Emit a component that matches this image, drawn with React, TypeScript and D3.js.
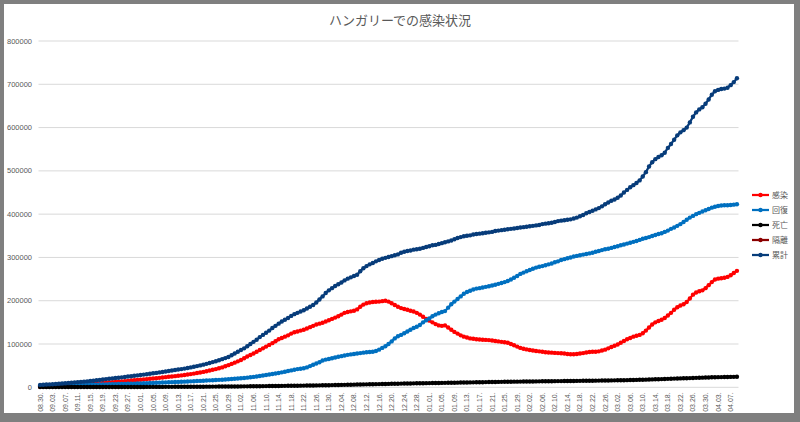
import React from "react";
import * as d3 from "d3";

// ---- data (values in thousands of people) ----
const START_DATE = "2020-08-30";
const UNIT = 1000;
const TITLE = "ハンガリーでの感染状況";
const SERIES_NAMES = ["感染", "回復", "死亡", "隔離", "累計"];
const SERIES_COLORS = ["#FF0000", "#0070C0", "#000000", "#8B0000", "#073C7A"];
const Y_TICKS = [0, 100000, 200000, 300000, 400000, 500000, 600000, 700000, 800000];

const ACTIVE = [
  1.5, 1.6, 1.9, 2.0, 2.2, 2.5, 2.9, 3.3, 3.7, 4.2,
  4.7, 5.2, 5.6, 6.0, 6.4, 6.8, 7.3, 8.0, 8.6, 9.3,
  9.9, 10.5, 11.1, 11.7, 12.3, 12.9, 13.5, 14.2, 14.9, 15.6,
  16.3, 17.0, 17.6, 18.2, 18.9, 19.6, 20.3, 21.0, 21.8, 22.6,
  23.4, 24.2, 25.0, 25.8, 26.6, 27.5, 28.3, 29.4, 30.5, 31.7,
  32.9, 34.2, 35.6, 37.2, 38.8, 40.4, 42.1, 44.0, 46.0, 48.5,
  51.2, 54.0, 57.0, 60.0, 63.0, 67.0, 71.0, 74.5, 78.0, 82.0,
  86.0, 90.0, 94.0, 98.0, 102.0, 106.5, 111.0, 114.0, 117.0, 120.0,
  124.0, 127.0, 129.0, 131.0, 133.0, 136.0, 139.0, 142.0, 145.0, 147.0,
  149.0, 152.0, 155.0, 158.0, 161.0, 164.0, 168.0, 172.0, 174.0, 175.5,
  177.0, 180.0, 186.0, 191.0, 194.0, 196.0, 197.0, 197.5, 198.0, 199.0,
  200.0, 198.0, 194.0, 190.0, 186.0, 183.0, 181.0, 179.0, 177.0, 175.0,
  172.0, 168.0, 163.0, 158.0, 154.0, 150.0, 146.0, 143.0, 142.0, 143.0,
  138.0, 133.0, 128.0, 124.0, 120.0, 117.0, 115.0, 113.0, 112.0, 111.0,
  110.5, 110.0, 109.5, 109.0, 108.0, 107.0, 106.0, 105.0, 104.0, 103.0,
  100.0, 97.0, 94.0, 91.0, 89.0, 87.5, 86.0, 85.0, 84.0, 83.0,
  82.0, 81.0, 80.5, 80.0, 79.5, 79.0, 78.5, 78.0, 77.0, 76.5,
  76.5, 77.0, 78.0, 79.0, 80.5, 81.5, 82.0, 82.0, 83.0, 85.0,
  87.0, 90.0, 93.0, 96.0, 99.0, 103.0, 107.0, 111.0, 114.0, 117.0,
  119.0, 121.0, 125.0, 131.0, 138.0, 145.0, 150.0, 153.0, 156.0, 160.0,
  166.0, 172.0, 179.0, 185.0, 189.0, 192.0, 197.0, 205.0, 214.0, 219.0,
  222.0, 224.0, 229.0, 236.0, 243.0, 249.0, 251.0, 252.0, 253.0, 255.0,
  259.0, 264.0, 269.0,
];

const RECOVERED = [
  3.4, 3.5, 3.6, 3.7, 3.8, 3.9, 4.0, 4.1, 4.3, 4.5,
  4.7, 4.9, 5.1, 5.3, 5.5, 5.7, 5.8, 6.0, 6.2, 6.4,
  6.6, 6.8, 7.0, 7.2, 7.4, 7.6, 7.8, 8.0, 8.2, 8.4,
  8.6, 8.8, 9.0, 9.2, 9.5, 9.8, 10.1, 10.4, 10.7, 11.0,
  11.3, 11.6, 11.9, 12.2, 12.5, 12.8, 13.1, 13.4, 13.7, 14.0,
  14.4, 14.8, 15.2, 15.6, 16.0, 16.4, 16.8, 17.2, 17.6, 18.0,
  18.5, 19.1, 19.7, 20.3, 20.9, 21.5, 22.3, 23.1, 24.0, 25.0,
  26.0, 27.2, 28.4, 29.6, 30.8, 32.0, 33.2, 34.5, 35.8, 37.5,
  39.0, 40.5, 42.0, 43.0, 44.0, 46.0, 49.0, 52.0, 55.0, 58.0,
  62.0, 64.0, 65.5, 67.0, 69.0, 70.5, 72.0, 73.5, 75.0, 76.0,
  77.0, 78.0, 79.0, 80.0, 81.0, 81.5, 82.0, 84.0, 87.0, 91.0,
  95.0, 100.0, 106.0, 113.0, 118.0, 121.0, 125.0, 129.0, 133.0, 137.0,
  140.0, 144.0, 150.0, 155.0, 159.0, 164.0, 168.0, 171.0, 174.0, 176.0,
  184.0, 192.0, 198.0, 204.0, 210.0, 216.0, 220.0, 223.0, 226.0, 228.0,
  229.0, 230.5, 232.0, 233.5, 235.0, 237.0, 239.0, 241.0, 243.0, 245.5,
  249.0, 253.0, 257.0, 262.0, 265.0, 268.0, 271.0, 274.0, 276.5, 278.5,
  280.0, 282.0, 284.0, 286.0, 289.0, 291.0, 294.0, 296.0, 298.0, 300.0,
  302.0, 303.5, 305.0, 306.5, 308.0, 309.5, 311.0, 313.0, 315.0, 317.0,
  319.0, 320.0, 322.0, 324.0, 326.0, 328.0, 330.0, 332.0, 334.0, 336.0,
  338.0, 340.5, 343.0, 345.0, 347.0, 349.5, 352.0, 354.0, 356.0, 359.0,
  362.0, 366.0, 369.0, 373.0, 377.0, 382.0, 387.0, 392.0, 396.0, 400.0,
  403.0, 406.0, 409.0, 412.0, 415.0, 417.0, 419.0, 420.0, 420.5, 420.5,
  421.0, 422.0, 423.0,
];

const DEATHS = [
  0.61, 0.61, 0.62, 0.62, 0.62, 0.63, 0.63, 0.63, 0.64, 0.64,
  0.64, 0.65, 0.65, 0.66, 0.66, 0.67, 0.68, 0.68, 0.69, 0.70,
  0.71, 0.72, 0.73, 0.73, 0.74, 0.75, 0.76, 0.77, 0.78, 0.79,
  0.80, 0.81, 0.83, 0.85, 0.87, 0.89, 0.91, 0.93, 0.95, 0.98,
  1.01, 1.04, 1.07, 1.10, 1.13, 1.16, 1.19, 1.22, 1.26, 1.30,
  1.34, 1.38, 1.42, 1.47, 1.52, 1.57, 1.62, 1.68, 1.74, 1.79,
  1.84, 1.89, 1.94, 2.01, 2.08, 2.15, 2.23, 2.31, 2.39, 2.47,
  2.56, 2.65, 2.74, 2.83, 2.92, 3.02, 3.12, 3.22, 3.32, 3.42,
  3.53, 3.63, 3.74, 3.84, 3.94, 4.05, 4.16, 4.27, 4.38, 4.49,
  4.60, 4.75, 4.90, 5.05, 5.21, 5.37, 5.53, 5.69, 5.85, 6.01,
  6.17, 6.33, 6.49, 6.65, 6.81, 6.97, 7.13, 7.29, 7.45, 7.60,
  7.75, 7.90, 8.05, 8.20, 8.35, 8.50, 8.65, 8.79, 8.93, 9.07,
  9.20, 9.33, 9.45, 9.54, 9.66, 9.78, 9.90, 10.02, 10.14, 10.27,
  10.40, 10.53, 10.66, 10.79, 10.92, 11.05, 11.18, 11.31, 11.44, 11.57,
  11.70, 11.83, 11.96, 12.08, 12.20, 12.32, 12.44, 12.56, 12.68, 12.80,
  12.90, 13.00, 13.10, 13.19, 13.28, 13.37, 13.46, 13.55, 13.64, 13.73,
  13.82, 13.91, 14.00, 14.09, 14.18, 14.27, 14.36, 14.45, 14.54, 14.63,
  14.72, 14.81, 14.90, 15.00, 15.10, 15.20, 15.30, 15.40, 15.50, 15.60,
  15.70, 15.80, 15.90, 16.00, 16.12, 16.25, 16.40, 16.56, 16.73, 16.91,
  17.10, 17.30, 17.51, 17.73, 17.96, 18.20, 18.45, 18.71, 18.98, 19.25,
  19.53, 19.81, 20.05, 20.30, 20.55, 20.80, 21.05, 21.30, 21.55, 21.80,
  22.05, 22.30, 22.55, 22.80, 23.05, 23.25, 23.40, 23.55, 23.70, 23.85,
  24.00, 24.15, 24.30,
];

const QUARANTINE: number[] = [];

const TOTAL = [
  5.5, 5.9, 6.3, 6.7, 7.1, 7.6, 8.1, 8.7, 9.3, 10.0,
  10.7, 11.4, 12.0, 12.6, 13.2, 13.8, 14.4, 15.3, 16.2, 17.1,
  18.0, 18.9, 19.8, 20.6, 21.4, 22.2, 23.0, 23.9, 24.8, 25.7,
  26.6, 27.5, 28.4, 29.3, 30.3, 31.3, 32.3, 33.3, 34.4, 35.5,
  36.6, 37.7, 38.8, 39.9, 41.0, 42.1, 43.2, 44.6, 46.0, 47.5,
  49.0, 50.6, 52.3, 54.2, 56.2, 58.2, 60.3, 62.6, 65.0, 67.5,
  70, 74, 78, 82, 86, 90, 95, 100, 105, 110,
  116, 121, 126, 131, 137, 142, 147, 152, 156, 160,
  165, 169, 172, 175, 178, 182, 186, 190, 196, 203,
  210, 218, 224, 229, 234, 238, 242, 247, 251, 254,
  257, 260, 268, 275, 280, 284, 287, 291, 294, 297,
  299, 301, 303, 305, 307, 311, 313, 315, 316, 318,
  319, 320, 322, 324, 326, 328, 329, 331, 333, 335,
  337, 339, 342, 345, 347, 349, 350, 351, 353, 354,
  355, 356, 357, 358, 359, 361, 362, 363, 364, 365,
  366, 367, 368, 369, 370, 371, 372, 373, 374, 375,
  377, 378, 379, 380, 382, 384, 385, 386, 387, 388,
  390, 392, 395, 398, 402, 405, 408, 411, 414, 418,
  423, 427, 431, 434, 438, 443, 450, 456, 462, 467,
  472, 478, 487, 497, 510, 520, 527, 532, 536, 542,
  553, 562, 572, 582, 589, 594, 600, 612, 625, 635,
  642, 647, 655, 665, 676, 684, 687, 689, 690, 692,
  698, 705, 714,
];

const SERIES = [ACTIVE, RECOVERED, DEATHS, QUARANTINE, TOTAL];

export default function App() {
  const W = 800;
  const H = 422;
  const n = TOTAL.length;
  const start = d3.timeParse("%Y-%m-%d")(START_DATE) as Date;
  const dates = d3.range(n).map((i) => d3.timeDay.offset(start, i));
  const fmt = d3.timeFormat("%m.%d.");

  const plotL = 38.5;
  const plotR = 738.5;
  const plotT = 41;
  const plotB = 387.3;

  const x = d3.scaleBand<number>().domain(d3.range(n)).range([plotL, plotR]);
  const cx = (i: number) => (x(i) as number) + x.bandwidth() / 2;
  const y = d3.scaleLinear().domain([0, 800000]).range([plotB, plotT]);

  const line = d3
    .line<number>()
    .x((_, i) => cx(i))
    .y((d) => y(d * UNIT));

  const labelFont = "'Noto Sans CJK JP', 'DejaVu Sans', sans-serif";
  const numFont = "'Liberation Sans', Arial, sans-serif";

  return (
    <svg
      width={W}
      height={H}
      style={{ position: "absolute", left: 0, top: 0, display: "block" }}
    >
      <rect x={0} y={0} width={W} height={H} fill="#7f7f7f" />
      <rect x={4} y={4} width={790} height={409} fill="#ffffff" />

      <text
        x={400}
        y={25}
        textAnchor="middle"
        fontSize={13}
        fill="#595959"
        fontFamily={labelFont}
      >
        {TITLE}
      </text>

      {/* gridlines */}
      {Y_TICKS.map((t) => (
        <line
          key={"g" + t}
          x1={plotL}
          x2={plotR}
          y1={y(t)}
          y2={y(t)}
          stroke="#d9d9d9"
          strokeWidth={1}
        />
      ))}

      {/* y tick labels */}
      {Y_TICKS.map((t) => (
        <text
          key={"yl" + t}
          x={32}
          y={y(t)}
          dy="0.35em"
          textAnchor="end"
          fontSize={7.5}
          fill="#595959"
          fontFamily={numFont}
        >
          {t}
        </text>
      ))}

      {/* x tick labels */}
      {dates.map((d, i) =>
        i % 4 === 0 ? (
          <text
            key={"xl" + i}
            transform={`translate(${cx(i)},${plotB + 5}) rotate(-90)`}
            dy="0.35em"
            textAnchor="end"
            fontSize={7}
            fill="#595959"
            fontFamily={numFont}
          >
            {fmt(d)}
          </text>
        ) : null
      )}

      {/* series */}
      {SERIES.map((s, k) =>
        s.length ? (
          <g key={"s" + k}>
            <path
              d={line(s) || ""}
              fill="none"
              stroke={SERIES_COLORS[k]}
              strokeWidth={2.25}
              strokeLinejoin="round"
            />
            {s.map((v, i) => (
              <circle
                key={i}
                cx={cx(i)}
                cy={y(v * UNIT)}
                r={2.2}
                fill={SERIES_COLORS[k]}
              />
            ))}
          </g>
        ) : null
      )}

      {/* legend */}
      {SERIES_NAMES.map((name, k) => {
        const ly = 195 + k * 15;
        return (
          <g key={"lg" + k}>
            <line
              x1={752}
              x2={769}
              y1={ly}
              y2={ly}
              stroke={SERIES_COLORS[k]}
              strokeWidth={2.25}
            />
            <circle cx={760.5} cy={ly} r={2.2} fill={SERIES_COLORS[k]} />
            <text
              x={772}
              y={ly}
              dy="0.35em"
              fontSize={8}
              fill="#595959"
              fontFamily={labelFont}
            >
              {name}
            </text>
          </g>
        );
      })}
    </svg>
  );
}
